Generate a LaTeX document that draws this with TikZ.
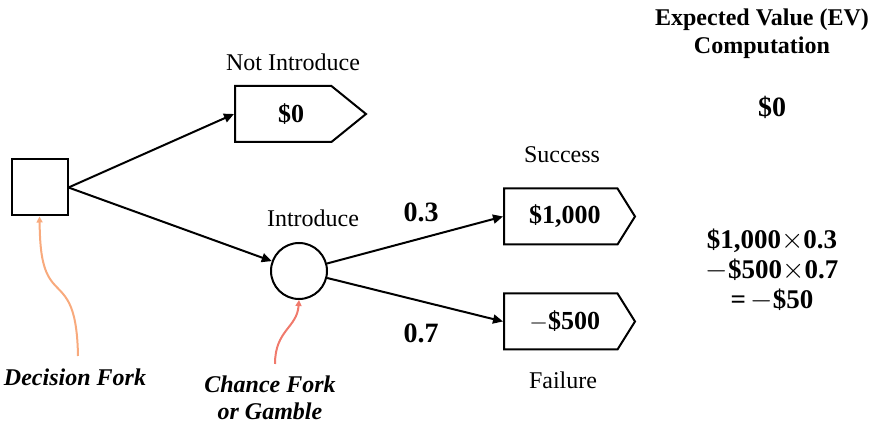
\documentclass[tikz,border=0pt]{standalone}
\usepackage{fontspec}
\setmainfont{Liberation Serif}
\usetikzlibrary{arrows.meta,positioning,shapes.symbols}
\definecolor{forkorange}{RGB}{248,170,125}
\definecolor{forkred}{RGB}{240,122,108}

\begin{document}
\begin{tikzpicture}[x=0.5pt,y=-0.5pt,
    branch/.style={line width=1pt,-{Triangle[length=5pt,width=4.5pt]}},
    payoff/.style={signal,signal to=east,draw,line width=1pt,anchor=west,
      minimum width=65.5pt,minimum height=28pt,inner sep=0pt,
      font=\fontsize{13}{15}\selectfont\bfseries},
    lbl/.style={font=\fontsize{12}{14}\selectfont},
    num/.style={font=\fontsize{14}{15}\selectfont\bfseries},
    fork/.style={font=\fontsize{12}{13.5}\selectfont\bfseries\itshape,align=center},
    pointer/.style={line width=1pt,-{Triangle[length=3pt,width=3pt]}}]
  \useasboundingbox (0,0) rectangle (874,426);

  % ---------------- Forks ----------------
  \node[draw,line width=1pt,minimum size=28pt,inner sep=0pt] (dec) at (39.5,187.5) {};
  \node[draw,circle,line width=1pt,minimum size=28pt,inner sep=0pt] (chance) at (299,271) {};

  % ---------------- Payoffs ----------------
  \node[payoff,signal pointer angle=78] (notintro) at (234,114) {\hspace{8pt}\$0};
  \node[payoff,signal pointer angle=116] (succ) at (503,216.5) {\hspace{4pt}\$1,000};
  \node[payoff,signal pointer angle=116] (fail) at (503,321.5) {\hspace{4pt}$-$\$500};

  % ---------------- Labels ----------------
  \node[lbl] (lnot) at (293,62) {Not Introduce};
  \node[lbl] (lintro) at (313,218) {Introduce};
  \node[lbl] (lsucc) at (562,155) {Success};
  \node[lbl] (lfail) at (563,380) {Failure};
  \node[num] (p1) at (421,212) {0.3};
  \node[num] (p2) at (421,333) {0.7};

  % ---------------- EV column ----------------
  \node[font=\fontsize{12}{14}\selectfont\bfseries,align=center] (evhead) at (762,34)
    {Expected Value (EV)\\Computation};
  \node[num] (ev0) at (772,107) {\$0};
  \node[font=\fontsize{13.5}{15}\selectfont\bfseries,align=center] (ev1) at (772,270)
    {\$1,000$\times$0.3\\$-$\$500$\times$0.7\\=\,$-$\$50};

  % ---------------- Fork names ----------------
  \node[fork] (dfork) at (75,377) {Decision Fork};
  \node[fork] (cfork) at (270,398) {Chance Fork\\or Gamble};
  \coordinate (dtail) at (78,356);
  \coordinate (ctail) at (275,364);

  % Edges
  \draw[branch] (dec.east) -- (notintro.west);
  \draw[branch] (dec.east) -- (chance);
  \draw[branch] (chance) -- (succ.west);
  \draw[branch] (chance) -- (fail.west);

  % Pointers
  \draw[pointer,forkorange] (dtail) .. controls (77,300) and (64,296) .. (53,283)
    .. controls (42,270) and (40,250) .. (dec.south);
  \draw[pointer,forkred] (ctail) .. controls (275,330) and (297,328) .. (chance.south);
\end{tikzpicture}
\end{document}
